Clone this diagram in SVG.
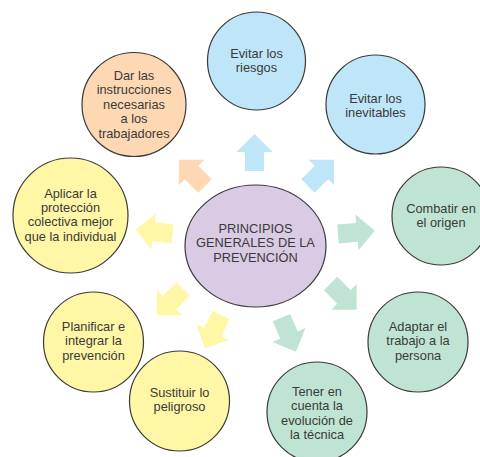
<svg xmlns="http://www.w3.org/2000/svg" width="480" height="457" viewBox="0 0 480 457">
<style>
text{font-family:"Liberation Sans",Arial,sans-serif;font-size:12.8px;fill:#3a3a3a;text-anchor:middle}
.n{stroke:#3a3a3a;stroke-width:1.2}
.blue{fill:#bfe6f8}.peach{fill:#fdd8b3}.yellow{fill:#fff6a6}.green{fill:#c0e4d3}.purple{fill:#d9cbe4}
.ab{fill:#bfe6f8}.ap{fill:#fdd8b3}.ay{fill:#fff6a6}.ag{fill:#c0e4d3}
</style>
<defs>
<path id="arr" d="M-9.5,0 L-9.5,-19 L-18,-19 L0,-37 L18,-19 L9.5,-19 L9.5,0 Z"/>
</defs>
<rect width="480" height="457" fill="#fff"/>
<g id="connectors">
<use href="#arr" class="ab" transform="translate(254.5,171)"/>
<use href="#arr" class="ab" transform="translate(308,186) rotate(45)"/>
<use href="#arr" class="ap" transform="translate(205,186) rotate(-45)"/>
<use href="#arr" class="ag" transform="translate(338,234) rotate(85)"/>
<use href="#arr" class="ay" transform="translate(172.5,234) rotate(-83)"/>
<use href="#arr" class="ag" transform="translate(330.5,283.5) rotate(135)"/>
<use href="#arr" class="ay" transform="translate(183,289) rotate(-135)"/>
<use href="#arr" class="ag" transform="translate(281.5,317.6) rotate(157)"/>
<use href="#arr" class="ay" transform="translate(221,315) rotate(-154)"/>
</g>
<g id="center">
<ellipse class="n purple" cx="255.5" cy="246" rx="70.5" ry="61"/>
<text x="255.5" y="233">PRINCIPIOS</text>
<text x="255.5" y="247.4">GENERALES DE LA</text>
<text x="255.5" y="261.8">PREVENCIÓN</text>
</g>
<g id="riesgos">
<circle class="n blue" cx="256.5" cy="61" r="49"/>
<text x="256.5" y="57.5">Evitar los</text>
<text x="256.5" y="71.9">riesgos</text>
</g>
<g id="inevitables">
<circle class="n blue" cx="375.5" cy="104.5" r="49.5"/>
<text x="375.5" y="102.8">Evitar los</text>
<text x="375.5" y="117.2">inevitables</text>
</g>
<g id="instrucciones">
<circle class="n peach" cx="134" cy="104.5" r="52"/>
<text x="134" y="80">Dar las</text>
<text x="134" y="94.4">instrucciones</text>
<text x="134" y="108.8">necesarias</text>
<text x="134" y="123.2">a los</text>
<text x="134" y="137.6">trabajadores</text>
</g>
<g id="colectiva">
<circle class="n yellow" cx="70.5" cy="215.5" r="57.5"/>
<text x="70.5" y="197.5">Aplicar la</text>
<text x="70.5" y="211.9">protección</text>
<text x="70.5" y="226.3">colectiva mejor</text>
<text x="70.5" y="240.7">que la individual</text>
</g>
<g id="origen">
<circle class="n green" cx="441" cy="216" r="49"/>
<text x="441" y="213">Combatir en</text>
<text x="441" y="227.4">el origen</text>
</g>
<g id="planificar">
<circle class="n yellow" cx="93.5" cy="342" r="50"/>
<text x="93.5" y="331">Planificar e</text>
<text x="93.5" y="345.4">integrar la</text>
<text x="93.5" y="359.8">prevención</text>
</g>
<g id="sustituir">
<circle class="n yellow" cx="179.5" cy="401" r="50"/>
<text x="179.5" y="397">Sustituir lo</text>
<text x="179.5" y="411.4">peligroso</text>
</g>
<g id="adaptar">
<circle class="n green" cx="418" cy="342" r="50"/>
<text x="418" y="331">Adaptar el</text>
<text x="418" y="345.4">trabajo a la</text>
<text x="418" y="359.8">persona</text>
</g>
<g id="tecnica">
<circle class="n green" cx="317" cy="412" r="50"/>
<text x="317" y="396">Tener en</text>
<text x="317" y="410.4">cuenta la</text>
<text x="317" y="424.8">evolución de</text>
<text x="317" y="439.2">la técnica</text>
</g>
</svg>
